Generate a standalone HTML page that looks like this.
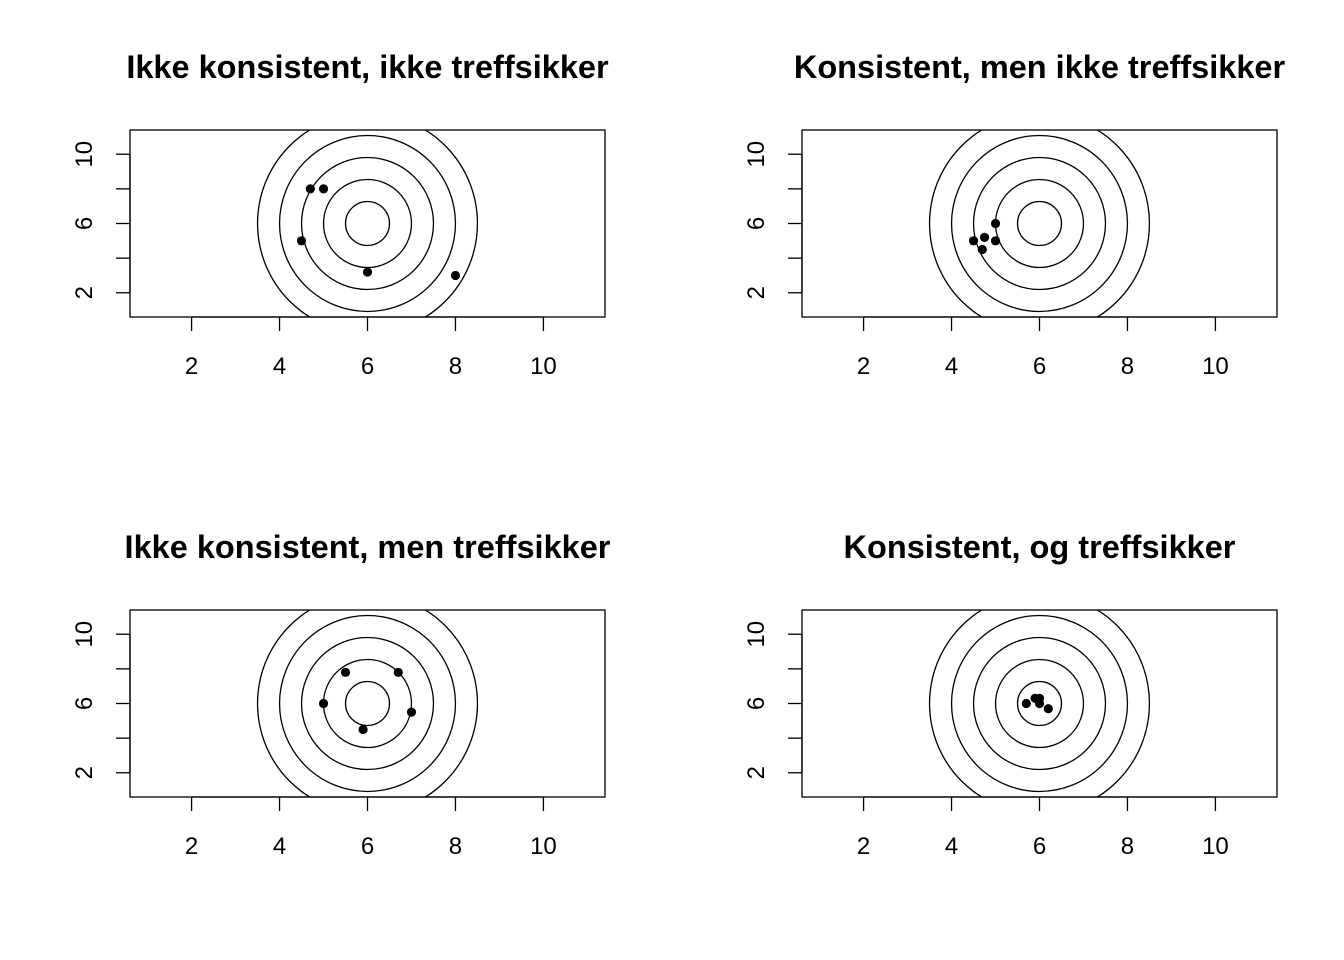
<!DOCTYPE html>
<html><head><meta charset="utf-8"><style>
html,body{margin:0;padding:0;background:#fff;}
svg{display:block;font-family:"Liberation Sans",Arial,sans-serif;}
</style></head><body>
<svg id="chart" width="1344" height="960" viewBox="0 0 1344 960"></svg>
<script>
const panelTitles = ["Ikke konsistent, ikke treffsikker","Konsistent, men ikke treffsikker","Ikke konsistent, men treffsikker","Konsistent, og treffsikker"];
const xs1 = [4.7, 5.0, 4.5, 6.0, 8.0];
const ys1 = [8.0, 8.0, 5.0, 3.2, 3.0];
const xs2 = [4.5, 4.75, 5.0, 5.0, 4.7];
const ys2 = [5.0, 5.2, 6.0, 5.0, 4.5];
const xs3 = [5.5, 6.7, 5.0, 7.0, 5.9];
const ys3 = [7.8, 7.8, 6.0, 5.5, 4.5];
const xs4 = [5.7, 5.9, 6.0, 6.0, 6.2];
const ys4 = [6.0, 6.3, 6.3, 6.0, 5.7];
const xTicks = [2,4,6,8,10];
const yTicks = [2,4,6,8,10];
const yLabels = [2,6,10];
const ringRadii = [0.5,1,1.5,2,2.5];
const ringCenter = [6,6];

const NS="http://www.w3.org/2000/svg";
const svg=document.getElementById('chart');
function mk(tag,attrs,parent){const e=document.createElementNS(NS,tag);for(const k in attrs)e.setAttribute(k,attrs[k]);(parent||svg).appendChild(e);return e;}
const series=[[xs1,ys1],[xs2,ys2],[xs3,ys3],[xs4,ys4]];
const offsets=[[0,0],[672,0],[0,480],[672,480]];
const xmin=0.6,xmax=11.4,ymin=0.6,ymax=11.4;
series.forEach((s,i)=>{
  const ox=offsets[i][0],oy=offsets[i][1];
  const L=130+ox,R=605+ox,T=130+oy,B=317+oy;
  const sx=v=>L+(v-xmin)/(xmax-xmin)*(R-L);
  const sy=v=>B-(v-ymin)/(ymax-ymin)*(B-T);
  const pxPerX=(R-L)/(xmax-xmin);
  const g=mk('g',{});
  
  
  const cp=mk('clipPath',{id:'clip'+i},g);
  mk('rect',{x:L,y:T,width:R-L,height:B-T},cp);
  const t=mk('text',{x:(L+R)/2,y:78+oy,'text-anchor':'middle','font-size':'32.5','font-weight':'bold',fill:'#000'},g);
  t.textContent=panelTitles[i];
  
  
  const rings=mk('g',{'clip-path':'url(#clip'+i+')'},g);
  ringRadii.forEach(r=>{
    const c=mk('circle',{cx:sx(ringCenter[0]),cy:sy(ringCenter[1]),r:r*pxPerX,fill:'none',stroke:'#000','stroke-width':1.3},rings);
    
    
  });
  s[0].forEach((x,j)=>{
    const p=mk('circle',{cx:sx(x),cy:sy(s[1][j]),r:4.6,fill:'#000'},g);
    
    
  });
  const box=mk('rect',{x:L,y:T,width:R-L,height:B-T,fill:'none',stroke:'#000','stroke-width':1.3},g);
  
  
  const xa=mk('g',{},g);
  
  
  mk('line',{x1:sx(xTicks[0]),x2:sx(xTicks[xTicks.length-1]),y1:B,y2:B,stroke:'#000','stroke-width':1.3},xa);
  xTicks.forEach(v=>{
    mk('line',{x1:sx(v),x2:sx(v),y1:B,y2:B+14,stroke:'#000','stroke-width':1.3},xa);
    const tl=mk('text',{x:sx(v),y:B+57,'text-anchor':'middle','font-size':'24',fill:'#000'},xa);
    tl.textContent=v;
  });
  const ya=mk('g',{},g);
  
  
  mk('line',{x1:L,x2:L,y1:sy(yTicks[0]),y2:sy(yTicks[yTicks.length-1]),stroke:'#000','stroke-width':1.3},ya);
  yTicks.forEach(v=>{
    mk('line',{x1:L-14,x2:L,y1:sy(v),y2:sy(v),stroke:'#000','stroke-width':1.3},ya);
  });
  yLabels.forEach(v=>{
    const tl=mk('text',{x:0,y:0,'text-anchor':'middle','font-size':'24',fill:'#000',transform:'translate('+(L-38)+','+sy(v)+') rotate(-90)'},ya);
    tl.textContent=v;
  });
});
</script>
</body></html>
